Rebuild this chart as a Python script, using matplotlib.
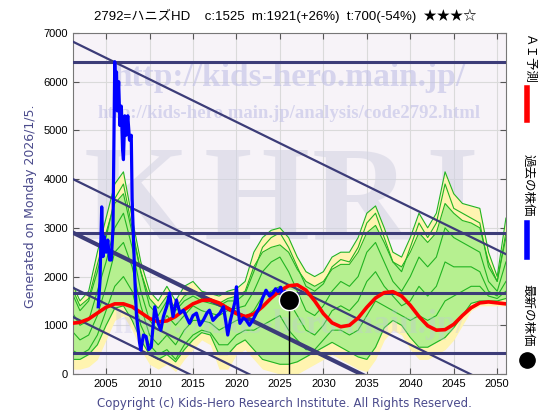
import numpy as np
import matplotlib
matplotlib.use('Agg')
import matplotlib.pyplot as plt
from matplotlib.lines import Line2D

# ---- data ----
years = np.arange(2001, 2052)

# AI forecast (red)
ai_pred = [1040, 1060, 1130, 1250, 1370, 1440, 1440, 1380, 1260, 1140,
           1070, 1090, 1180, 1320, 1440, 1510, 1520, 1460, 1350, 1240,
           1180, 1230, 1380, 1560, 1710, 1810, 1830, 1720, 1500, 1240,
           1050, 970, 1000, 1150, 1370, 1560, 1670, 1690, 1600, 1410,
           1180, 990, 900, 910, 1020, 1200, 1360, 1460, 1480, 1460, 1440]

# past price (blue)
past_x = [2004.1, 2004.3, 2004.5, 2004.65, 2004.8, 2005.0, 2005.2, 2005.4, 2005.6, 2005.8,
          2006.0, 2006.1, 2006.2, 2006.3, 2006.45, 2006.6, 2006.75, 2006.9, 2007.0, 2007.15,
          2007.3, 2007.5, 2007.7, 2007.9, 2008.0, 2008.3, 2008.5, 2008.7, 2008.85, 2009.0,
          2009.3, 2009.6, 2009.9, 2010.2, 2010.6, 2011.0, 2011.3, 2011.6, 2012.0, 2012.3,
          2012.7, 2013.1, 2013.5, 2013.9, 2014.3, 2014.6, 2015.0, 2015.4, 2015.8, 2016.2,
          2016.6, 2016.9, 2017.3, 2017.7, 2018.1, 2018.5, 2018.8, 2019.0, 2019.3, 2019.6,
          2019.85, 2020.0, 2020.2, 2020.4, 2020.8, 2021.1, 2021.5, 2021.9, 2022.3, 2022.7,
          2023.0, 2023.4, 2023.8, 2024.2, 2024.5, 2024.8, 2025.1, 2025.3, 2025.6, 2026.0]
past_y = [1380, 1900, 3430, 2410, 2820, 2500, 2750, 2340, 2340, 3000,
          6410, 5800, 6200, 5400, 6000, 5100, 5500, 4600, 4400, 5300,
          4900, 5300, 4800, 4900, 3600, 2000, 1200, 900, 650, 490,
          800, 770, 500, 560, 1380, 1040, 900, 1180, 1400, 1660,
          1180, 1520, 1250, 1310, 1150, 1040, 1200, 1250, 1000, 1110,
          1250, 1310, 1100, 1180, 1250, 1380, 1050, 800, 1100, 1310,
          1500, 1790, 1300, 1040, 1150, 1110, 1000, 1110, 1250, 1380,
          1550, 1720, 1600, 1660, 1750, 1690, 1780, 1620, 1700, 1525]

latest_year = 2026.0
latest_price = 1525

# forecast fan (yellow / green)
outer_hi = [1900, 1500, 1700, 2500, 3200, 3900, 4150, 3200, 2300, 1700,
            1500, 1800, 1500, 1800, 1900, 1700, 1650, 1600, 1700, 1750,
            1900, 2500, 2800, 2950, 3000, 2800, 2400, 2100, 2000, 2100,
            2400, 2500, 2500, 2800, 3300, 3450, 3000, 2500, 2400, 2800,
            3300, 3000, 3300, 4150, 3700, 3500, 3450, 3400, 2500, 2000, 3200]
outer_lo = [100, 100, 150, 300, 700, 1100, 1200, 900, 500, 200,
            100, 200, 50, 300, 500, 700, 600, 100, 100, 400,
            500, 300, 100, 50, 0, 0, 0, 100, 200, 300,
            400, 300, 200, 100, 50, 300, 700, 900, 800, 500,
            300, 300, 400, 500, 700, 1000, 1300, 1400, 1400, 1400, 1400]
inner_hi = [1800, 1400, 1550, 2250, 2900, 3500, 3700, 2900, 2100, 1550,
            1350, 1600, 1350, 1600, 1700, 1550, 1500, 1450, 1550, 1600,
            1700, 2200, 2500, 2600, 2650, 2500, 2150, 1900, 1800, 1900,
            2150, 2250, 2250, 2500, 2900, 3050, 2700, 2300, 2200, 2500,
            2900, 2700, 2900, 3500, 3300, 3150, 3100, 3000, 2300, 1900, 2800]
inner_lo = [300, 300, 400, 600, 1000, 1350, 1400, 1100, 700, 400,
            300, 400, 250, 500, 700, 850, 800, 400, 400, 600,
            700, 500, 300, 250, 200, 200, 250, 350, 450, 550,
            650, 550, 450, 350, 300, 550, 950, 1100, 1000, 750,
            550, 550, 650, 750, 950, 1200, 1450, 1500, 1500, 1500, 1550]
path1 = [1700, 1300, 1500, 2100, 2800, 3600, 3900, 3000, 2100, 1400,
         1200, 1500, 1300, 1500, 1600, 1500, 1450, 1400, 1500, 1500,
         1650, 2100, 2600, 2800, 2900, 2600, 2200, 1800, 1700, 1850,
         2200, 2350, 2300, 2600, 3100, 3300, 2800, 2300, 2100, 2600,
         3100, 2800, 3100, 3900, 3400, 3300, 3200, 3100, 2200, 1900, 2900]
path2 = [1300, 1000, 1100, 1700, 2300, 3000, 3300, 2600, 1700, 1100,
         900, 1200, 1000, 1200, 1400, 1300, 1250, 1200, 1300, 1350,
         1400, 1700, 2100, 2300, 2400, 2100, 1700, 1300, 1200, 1400,
         1700, 1900, 1800, 2000, 2500, 2700, 2300, 1900, 1700, 2000,
         2400, 2200, 2400, 3000, 2800, 2700, 2600, 2500, 1900, 1700, 2300]
path3 = [900, 700, 800, 1200, 1800, 2500, 2700, 2200, 1400, 800,
         600, 800, 600, 900, 1100, 1100, 1050, 900, 1000, 1100,
         1150, 1300, 1600, 1700, 1800, 1500, 1200, 900, 800, 1000,
         1300, 1400, 1300, 1500, 1900, 2100, 1800, 1600, 1400, 1500,
         1800, 1600, 1800, 2300, 2200, 2200, 2200, 2100, 1700, 1600, 1900]
path4 = [500, 400, 500, 800, 1300, 1800, 2000, 1700, 1000, 600,
         400, 500, 300, 600, 800, 900, 850, 600, 600, 800,
         900, 900, 1000, 1100, 1200, 900, 700, 500, 500, 700,
         900, 900, 800, 900, 1200, 1500, 1400, 1300, 1200, 1100,
         1200, 1100, 1200, 1500, 1600, 1700, 1800, 1800, 1600, 1550, 1700]

# support / resistance levels and trend channel
levels = [6400, 2900, 1670, 430]
trend_x = [2001.2, 2051.0]
trend_start = [6820, 4000, 2900, 1770, 1170]
trend_end = [2460, -360, -1460, -2590, -3190]
trend_width = [1.6, 1.6, 3.0, 1.6, 1.6]

title = '2792=ハニズHD    c:1525  m:1921(+26%)  t:700(-54%)  ★★★☆'
xticks = list(range(2005, 2051, 5))
yticks = list(range(0, 7001, 1000))

line_col = '#3c3c78'
text_col = '#4a4a8c'

fig = plt.figure(figsize=(5.6, 4.2), dpi=100)
ax = fig.add_axes([0.1304, 0.1095, 0.773, 0.812])
ax.set_facecolor('#f7f3f8')

# fan fills + paths
ax.fill_between(years, outer_lo, outer_hi, color='#fff4b0', lw=0, zorder=1)
ax.fill_between(years, inner_lo, inner_hi, color='#b6f090', lw=0, zorder=1.5)
for p in [outer_hi, inner_hi, path1, path2, path3, path4, inner_lo]:
    ax.plot(years, p, color='#22b422', lw=0.8, zorder=2)

# watermarks
wm = dict(transform=ax.transAxes, ha='center', va='center', family='Liberation Serif', zorder=2.5)
ax.text(0.5, 0.87, 'http://kids-hero.main.jp/', weight='bold', fontsize=24,
        color='#c0c0e6', alpha=0.6, **wm)
ax.text(0.5, 0.765, 'http://kids-hero.main.jp/analysis/code2792.html', weight='bold',
        fontsize=13.5, color='#c0c0e6', alpha=0.6, **wm)
for letter, xpos in zip('KHRI', [0.148, 0.425, 0.665, 0.875]):
    ax.text(xpos, 0.49, letter, fontsize=98, weight='bold', color='#d2d2e2', alpha=0.55,
            **dict(wm, zorder=0.8))
ax.text(0.5, 0.145, 'http://kids-hero.main.jp/', weight='bold', fontsize=24,
        color='#c0c0e6', alpha=0.3, **wm)

# levels and channel
for lv in levels:
    ax.axhline(lv, color=line_col, lw=2.2, zorder=3)
for s, e, w in zip(trend_start, trend_end, trend_width):
    ax.plot(trend_x, [s, e], color=line_col, lw=w, zorder=3)

# forecast, history, latest
ax.plot(years, ai_pred, color='#ff0000', lw=2.6, zorder=4)
ax.plot(past_x, past_y, color='#0000ff', lw=2.3, zorder=5)
ax.plot([latest_year, latest_year], [0, latest_price], color='black', lw=1, zorder=5)
ax.plot([latest_year], [latest_price], 'o', color='black', mec='white', mew=1, ms=14.5, zorder=6)

ax.set_xlim(2001.2, 2051.0)
ax.set_ylim(0, 7000)
ax.set_xticks(xticks)
ax.set_yticks(yticks)
ax.grid(True, color='#dadada', lw=0.8, zorder=0.5)
ax.set_axisbelow(True)
ax.tick_params(direction='in', length=4, top=True, right=True, labelsize=8, color='#555555')
for lab in ax.get_xticklabels() + ax.get_yticklabels():
    lab.set_family('Liberation Sans')
for sp in ax.spines.values():
    sp.set_color('#777777')
    sp.set_linewidth(0.8)

fig.text(0.51, 0.962, title, ha='center', va='center', fontsize=9.5,
         family=['Liberation Sans', 'Noto Sans CJK JP', 'DejaVu Sans'])
fig.text(0.054, 0.51, 'Generated on Monday 2026/1/5.', rotation=90, ha='center', va='center',
         fontsize=9, color=text_col, family='DejaVu Sans')
fig.text(0.508, 0.04, 'Copyright (c) Kids-Hero Research Institute. All Rights Reserved.',
         ha='center', va='center', fontsize=8.5, color=text_col, family='DejaVu Sans')

# right side legend
jp = ['Noto Sans CJK JP', 'DejaVu Sans']
fig.text(0.943, 0.860, 'ＡＩ予測', rotation=-90, ha='center', va='center', fontsize=9, family=jp)
fig.add_artist(Line2D([0.941, 0.941], [0.714, 0.790], color='#ff0000', lw=4, transform=fig.transFigure))
fig.text(0.943, 0.560, '過去の株価', rotation=-90, ha='center', va='center', fontsize=9, family=jp)
fig.add_artist(Line2D([0.941, 0.941], [0.388, 0.469], color='#0000ff', lw=4, transform=fig.transFigure))
fig.text(0.943, 0.250, '最新の株価', rotation=-90, ha='center', va='center', fontsize=9, family=jp)
fig.add_artist(Line2D([0.941], [0.143], marker='o', color='black', ms=11, transform=fig.transFigure))

fig.savefig('out.png', dpi=100)
